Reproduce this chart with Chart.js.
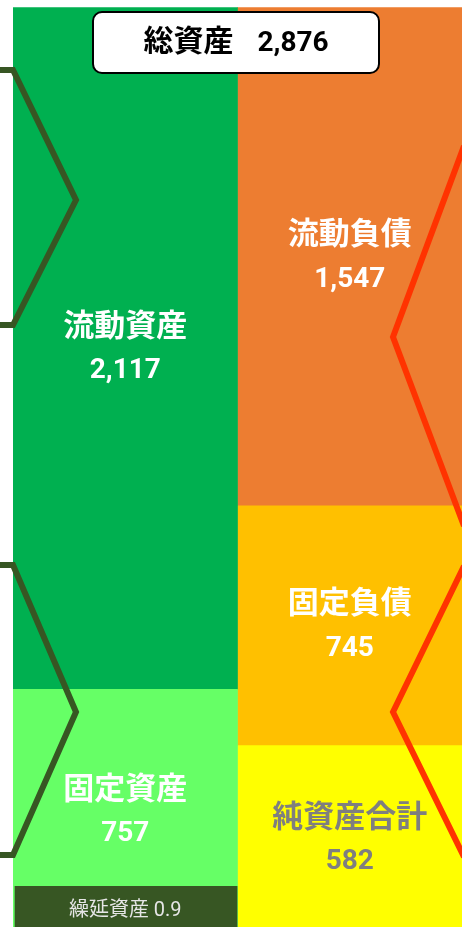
<!DOCTYPE html>
<html>
<head>
<meta charset="utf-8">
<script src="https://cdn.jsdelivr.net/npm/chart.js@4"></script>
<style>
  html, body { margin: 0; padding: 0; background: #fff; overflow: hidden; }
  #wrap { position: absolute; left: 0; top: 0; width: 462px; height: 933px; }
</style>
</head>
<body>
<div id="wrap"><canvas id="bs" width="462" height="933"></canvas></div>
<script>
// balance sheet values
var categories = ["資産", "負債・純資産"];
var totalLabel = "総資産";
var totalValue = 2876;

var assetNames = ["繰延資産", "固定資産", "流動資産"];
var assetValues = [0.9, 757, 2117];
var assetColors = ["#375623", "#66FF66", "#00B050"];

var liabNames = ["純資産合計", "固定負債", "流動負債"];
var liabValues = [582, 745, 1547];
var liabColors = ["#FFFF00", "#FFC000", "#ED7D31"];

var cjkFont = 'Roboto, "Noto Sans CJK JP", sans-serif';

function fmt(v) {
	return v.toLocaleString('en-US');
}

var datasets = [];
for (var i = 0; i < assetNames.length; i++) {
	datasets.push({
		label: assetNames[i],
		data: [assetValues[i], null],
		backgroundColor: assetColors[i],
		stack: 's',
		textColor: '#fff'
	});
}
for (var j = 0; j < liabNames.length; j++) {
	datasets.push({
		label: liabNames[j],
		data: [null, liabValues[j]],
		backgroundColor: liabColors[j],
		stack: 's',
		textColor: j === 0 ? '#7F7F7F' : '#fff'
	});
}
// the tiny deferred-assets bar sits on its own, drawn over the fixed assets
var tiny = datasets[0];
tiny.small = true;
tiny.stack = 'd';
tiny.grouped = false;
tiny.minBarLength = 47;
tiny.borderWidth = {left: 2, top: 0, right: 0, bottom: 0};
tiny.borderColor = '#66FF66';
tiny.borderSkipped = false;

// text inside the blocks
var blockLabels = {
	id: 'blockLabels',
	afterDatasetsDraw: function(chart) {
		var ctx = chart.ctx;
		ctx.save();
		ctx.textAlign = 'center';
		ctx.textBaseline = 'middle';
		chart.data.datasets.forEach(function(ds, di) {
			var meta = chart.getDatasetMeta(di);
			meta.data.forEach(function(bar, k) {
				var v = ds.data[k];
				if (v === null || v === undefined) return;
				var top = Math.min(bar.y, bar.base), bot = Math.max(bar.y, bar.base);
				var cy = (top + bot) / 2;
				ctx.fillStyle = ds.textColor;
				if (ds.small) {
					ctx.fillStyle = '#E6E6E6';
					ctx.font = '20px ' + cjkFont;
					ctx.fillText(ds.label + ' ' + v, bar.x, cy + 1);
					return;
				}
				ctx.font = 'bold 31px ' + cjkFont;
				ctx.fillText(ds.label, bar.x, cy - 20);
				ctx.font = 'bold 28px Roboto, sans-serif';
				ctx.fillText(fmt(v), bar.x, cy + 23);
			});
		});
		ctx.restore();
	}
};

// zigzag decorations and the total box
var decorations = {
	id: 'decorations',
	afterDraw: function(chart) {
		var ctx = chart.ctx;
		var W = chart.width;
		ctx.save();
		ctx.lineJoin = 'miter';
		ctx.lineWidth = 6;

		ctx.strokeStyle = '#375623';
		[[70, 200, 325], [565, 712, 855]].forEach(function(c) {
			ctx.beginPath();
			ctx.moveTo(-5, c[0]);
			ctx.lineTo(13, c[0]);
			ctx.lineTo(76, c[1]);
			ctx.lineTo(13, c[2]);
			ctx.lineTo(-5, c[2]);
			ctx.stroke();
		});

		ctx.strokeStyle = '#FF3300';
		[[150, 337, 522], [570, 712, 853]].forEach(function(c) {
			ctx.beginPath();
			ctx.moveTo(W + 2, c[0] - 4);
			ctx.lineTo(393, c[1]);
			ctx.lineTo(W + 2, c[2] + 4);
			ctx.stroke();
		});

		// total box
		var bx = 93, by = 12, bw = 286, bh = 61;
		ctx.beginPath();
		ctx.roundRect(bx, by, bw, bh, 9);
		ctx.fillStyle = '#fff';
		ctx.fill();
		ctx.lineWidth = 2;
		ctx.strokeStyle = '#000';
		ctx.stroke();

		ctx.fillStyle = '#000';
		ctx.textBaseline = 'middle';
		ctx.textAlign = 'left';
		var t1 = totalLabel, t2 = fmt(totalValue);
		ctx.font = 'bold 30px ' + cjkFont;
		var w1 = ctx.measureText(t1).width;
		ctx.font = 'bold 28px Roboto, sans-serif';
		var w2 = ctx.measureText(t2).width;
		var gap = 24;
		var sx = bx + bw / 2 - (w1 + gap + w2) / 2;
		ctx.font = 'bold 30px ' + cjkFont;
		ctx.fillText(t1, sx, by + bh / 2 + 1);
		ctx.font = 'bold 28px Roboto, sans-serif';
		ctx.fillText(t2, sx + w1 + gap, by + bh / 2 + 1);
		ctx.restore();
	}
};

new Chart(document.getElementById('bs'), {
	type: 'bar',
	data: {
		labels: categories,
		datasets: datasets
	},
	options: {
		responsive: false,
		animation: false,
		layout: { padding: { left: 13, top: 7, right: 0, bottom: 0 } },
		datasets: {
			bar: { barPercentage: 1, categoryPercentage: 1 }
		},
		scales: {
			x: { display: false, stacked: true },
			y: { display: false, stacked: true, min: 0, max: totalValue }
		},
		plugins: {
			legend: { display: false },
			tooltip: { enabled: false }
		}
	},
	plugins: [blockLabels, decorations]
});
</script>
</body>
</html>
